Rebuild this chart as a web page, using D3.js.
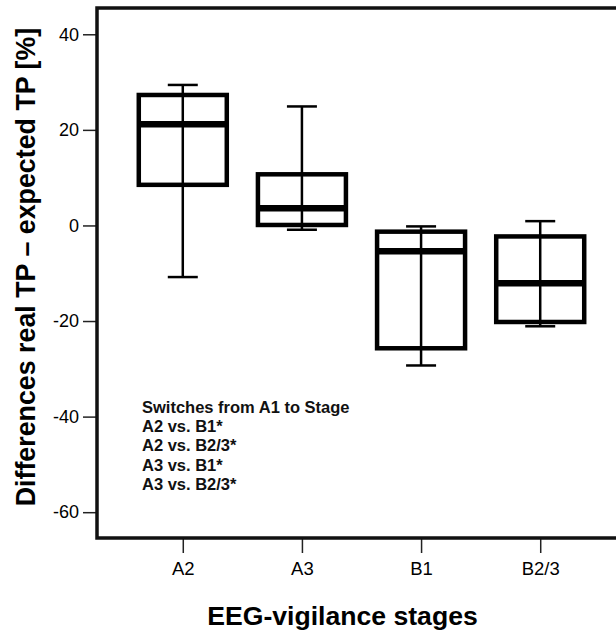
<!DOCTYPE html>
<html>
<head>
<meta charset="utf-8">
<script src="https://cdn.jsdelivr.net/npm/d3@7"></script>
<style>
  html, body { margin: 0; padding: 0; background: #fff; }
  svg { display: block; font-family: "Liberation Sans", Arial, sans-serif; }
</style>
</head>
<body>
<svg id="chart" width="616" height="632"></svg>
<script>
// ---- data ----
const categories = ["A2", "A3", "B1", "B2/3"];
const whiskerMin = [-10.8, -0.9, -29.3, -21.1];
const q1 = [8.5, 0.1, -25.7, -20.2];
const medians = [21.2, 3.6, -5.4, -12.1];
const q3 = [27.3, 10.7, -1.3, -2.3];
const whiskerMax = [29.4, 24.9, -0.2, 0.9];
const yTicks = [40, 20, 0, -20, -40, -60];
const legendLines = ["Switches from A1 to Stage", "A2 vs. B1*", "A2 vs. B2/3*", "A3 vs. B1*", "A3 vs. B2/3*"];
const xTitle = "EEG-vigilance stages";
const yTitle = "Differences real TP \u2013 expected TP [%]";

// ---- layout ----
const W = 616, H = 632;
const plot = { left: 97, top: 8, right: 626, bottom: 538 };

const svg = d3.select("#chart");

const x = d3.scalePoint().domain(categories).range([plot.left, plot.right]).padding(0.72);
const y = d3.scaleLinear().domain([-65.4, 45.5]).range([plot.bottom, plot.top]);

const boxW = 88, capW = 30;

const data = categories.map((c, i) => ({ c, lo: whiskerMin[i], q1: q1[i], med: medians[i], q3: q3[i], hi: whiskerMax[i] }));

const g = svg.append("g");
g.selectAll("rect.box").data(data).join("rect")
  .attr("class", "box")
  .attr("x", d => x(d.c) - boxW / 2)
  .attr("y", d => y(d.q3))
  .attr("width", boxW)
  .attr("height", d => y(d.q1) - y(d.q3))
  .attr("fill", "#fff")
  .attr("stroke", "#000")
  .attr("stroke-width", 4.5);

g.selectAll("line.whisk").data(data).join("line")
  .attr("x1", d => x(d.c)).attr("x2", d => x(d.c))
  .attr("y1", d => y(d.lo)).attr("y2", d => y(d.hi))
  .attr("stroke", "#000").attr("stroke-width", 2.5);

g.selectAll("line.capHi").data(data).join("line")
  .attr("x1", d => x(d.c) - capW / 2).attr("x2", d => x(d.c) + capW / 2)
  .attr("y1", d => y(d.hi)).attr("y2", d => y(d.hi))
  .attr("stroke", "#000").attr("stroke-width", 2.5);

g.selectAll("line.capLo").data(data).join("line")
  .attr("x1", d => x(d.c) - capW / 2).attr("x2", d => x(d.c) + capW / 2)
  .attr("y1", d => y(d.lo)).attr("y2", d => y(d.lo))
  .attr("stroke", "#000").attr("stroke-width", 2.5);

g.selectAll("line.med").data(data).join("line")
  .attr("x1", d => x(d.c) - boxW / 2).attr("x2", d => x(d.c) + boxW / 2)
  .attr("y1", d => y(d.med)).attr("y2", d => y(d.med))
  .attr("stroke", "#000").attr("stroke-width", 6.5);

// axes
const yAxis = svg.append("g")
  .attr("transform", `translate(${plot.left},0)`)
  .call(d3.axisLeft(y).tickValues(yTicks).tickSize(14).tickPadding(4).tickFormat(d => String(d)));
yAxis.select(".domain").remove();
yAxis.selectAll(".tick line").attr("stroke", "#222").attr("stroke-width", 1.5);
yAxis.selectAll(".tick text").attr("fill", "#000").style("font-size", "18px");

const xAxis = svg.append("g")
  .attr("transform", `translate(0,${plot.bottom})`)
  .call(d3.axisBottom(x).tickSize(15).tickPadding(9));
xAxis.select(".domain").remove();
xAxis.selectAll(".tick line").attr("stroke", "#222").attr("stroke-width", 1.5);
xAxis.selectAll(".tick text").attr("fill", "#000").style("font-size", "18.5px");

// frame
svg.append("path")
  .attr("d", `M${plot.right},${plot.top}H${plot.left}V${plot.bottom}H${plot.right}`)
  .attr("fill", "none").attr("stroke", "#111").attr("stroke-width", 3.5);

// legend text
const leg = svg.append("text")
  .attr("x", 142).attr("y", 413)
  .attr("fill", "#111")
  .style("font-size", "16.5px").style("font-weight", "bold");
leg.selectAll("tspan").data(legendLines).join("tspan")
  .attr("x", 142)
  .attr("dy", (d, i) => i === 0 ? 0 : 19.2)
  .text(d => d);

// titles
svg.append("text")
  .attr("x", 342.5).attr("y", 625)
  .attr("text-anchor", "middle")
  .attr("fill", "#000")
  .style("font-size", "26.6px").style("font-weight", "bold")
  .text(xTitle);

svg.append("text")
  .attr("transform", "translate(35,267) rotate(-90)")
  .attr("text-anchor", "middle")
  .attr("fill", "#000")
  .style("font-size", "26.8px").style("font-weight", "bold")
  .text(yTitle);
</script>
</body>
</html>
